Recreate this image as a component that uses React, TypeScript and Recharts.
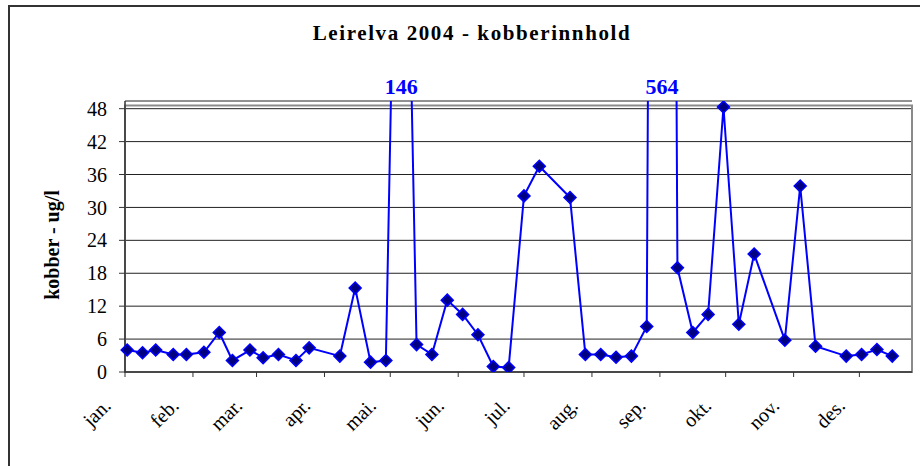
import React from 'react'
import {
  CartesianGrid,
  LabelList,
  Line,
  LineChart,
  ReferenceArea,
  XAxis,
  YAxis,
} from 'recharts'

// sampling dates (2004) and copper content, ug/l
const sampleDates = [
  '2004-01-02', '2004-01-09', '2004-01-15', '2004-01-23', '2004-01-29',
  '2004-02-06', '2004-02-13', '2004-02-19', '2004-02-27', '2004-03-04',
  '2004-03-11', '2004-03-19', '2004-03-25', '2004-04-08', '2004-04-15',
  '2004-04-22', '2004-04-29', '2004-05-06', '2004-05-13', '2004-05-20',
  '2004-05-27', '2004-06-03', '2004-06-10', '2004-06-17', '2004-06-24',
  '2004-07-01', '2004-07-08', '2004-07-22', '2004-07-29', '2004-08-05',
  '2004-08-12', '2004-08-19', '2004-08-26', '2004-09-02', '2004-09-09',
  '2004-09-16', '2004-09-23', '2004-09-30', '2004-10-07', '2004-10-14',
  '2004-10-28', '2004-11-04', '2004-11-11', '2004-11-25', '2004-12-02',
  '2004-12-09', '2004-12-16',
]

const kobberValues = [
  4.0, 3.5, 4.0, 3.2, 3.2,
  3.6, 7.2, 2.1, 4.0, 2.6,
  3.2, 2.1, 4.4, 2.9, 15.3,
  1.8, 2.1, 146, 5.0, 3.2,
  13.1, 10.5, 6.8, 1.0, 0.8,
  32.1, 37.5, 31.8, 3.2, 3.2,
  2.7, 2.9, 8.3, 564, 19.0,
  7.2, 10.5, 48.3, 8.7, 21.5,
  5.8, 33.9, 4.7, 2.9, 3.2,
  4.1, 2.9,
]

const monthStarts = [
  '2004-01-01', '2004-02-01', '2004-03-01', '2004-04-01', '2004-05-01', '2004-06-01',
  '2004-07-01', '2004-08-01', '2004-09-01', '2004-10-01', '2004-11-01', '2004-12-01',
]
const monthLabels = ['jan.', 'feb.', 'mar.', 'apr.', 'mai.', 'jun.', 'jul.', 'aug.', 'sep.', 'okt.', 'nov.', 'des.']
const yTicks = [0, 6, 12, 18, 24, 30, 36, 42, 48]

const FONT = "'Liberation Serif', 'Times New Roman', serif"
const Y_TOP = 49.4

const dayOfYear = (iso: string) => (Date.parse(iso) - Date.parse('2004-01-01')) / 86400000

const data = sampleDates.map((d, i) => ({ day: dayOfYear(d), kobber: kobberValues[i] }))
const monthTicks = monthStarts.map(dayOfYear)

const Diamond = (props: any) => {
  const { cx, cy } = props
  if (cx == null || cy == null) return null
  const r = 6
  return (
    <polygon
      points={`${cx},${cy - r} ${cx + r},${cy} ${cx},${cy + r} ${cx - r},${cy}`}
      fill="#000080"
      stroke="#0000ff"
      strokeWidth={1.5}
    />
  )
}

const MonthTick = (props: any) => {
  const { x, payload } = props
  const i = monthTicks.indexOf(payload.value)
  const ax = x - 13
  const ay = 407
  return (
    <text
      x={ax}
      y={ay}
      transform={`rotate(-45, ${ax}, ${ay})`}
      textAnchor="end"
      fontFamily={FONT}
      fontSize={20}
      fill="#000"
    >
      {monthLabels[i]}
    </text>
  )
}

// values off the scale get written above the plot
const OverflowLabel = (props: any) => {
  const { x, value } = props
  if (value <= Y_TOP) return null
  return (
    <text x={x} y={94} textAnchor="middle" fontFamily={FONT} fontWeight="bold" fontSize={22} fill="#0000ff">
      {value}
    </text>
  )
}

export default function App() {
  return (
    <div style={{ position: 'absolute', left: 0, top: 0, width: 920, height: 466, overflow: 'hidden', background: '#fff' }}>
      <LineChart width={920} height={466} data={data} margin={{ top: 101, right: 8, bottom: 0, left: 0 }}>
        <CartesianGrid vertical={false} stroke="#222" strokeWidth={1} />
        <ReferenceArea x1={0} x2={359} y1={0} y2={48.6} fill="none" stroke="#8a8a8a" strokeWidth={2} />
        <XAxis
          dataKey="day"
          type="number"
          domain={[0, 359]}
          ticks={monthTicks}
          interval={0}
          height={94}
          tickSize={5}
          axisLine={{ stroke: '#333', strokeWidth: 1.5 }}
          tickLine={{ stroke: '#333' }}
          tick={<MonthTick />}
        />
        <YAxis
          type="number"
          domain={[0, Y_TOP]}
          allowDataOverflow
          ticks={yTicks}
          interval={0}
          width={125}
          tickSize={6}
          tickMargin={12}
          axisLine={{ stroke: '#333', strokeWidth: 1.5 }}
          tickLine={{ stroke: '#333' }}
          tick={{ fontFamily: FONT, fontSize: 20, fill: '#000' }}
        />
        <Line
          type="linear"
          dataKey="kobber"
          stroke="#0000ff"
          strokeWidth={2}
          dot={<Diamond />}
          isAnimationActive={false}
        >
          <LabelList dataKey="kobber" content={<OverflowLabel />} />
        </Line>
      </LineChart>
      <svg width={920} height={466} style={{ position: 'absolute', left: 0, top: 0, pointerEvents: 'none' }}>
        <rect x={9} y={6} width={1000} height={1000} fill="none" stroke="#333" strokeWidth={2} />
        <text
          x={472}
          y={40}
          textAnchor="middle"
          fontFamily={FONT}
          fontWeight="bold"
          fontSize={21}
          letterSpacing={1.6}
          fill="#000"
        >
          Leirelva 2004 - kobberinnhold
        </text>
        <text
          x={52}
          y={245}
          transform="rotate(-90, 52, 245)"
          textAnchor="middle"
          dominantBaseline="central"
          fontFamily={FONT}
          fontWeight="bold"
          fontSize={20}
          fill="#000"
        >
          kobber - ug/l
        </text>
      </svg>
    </div>
  )
}
